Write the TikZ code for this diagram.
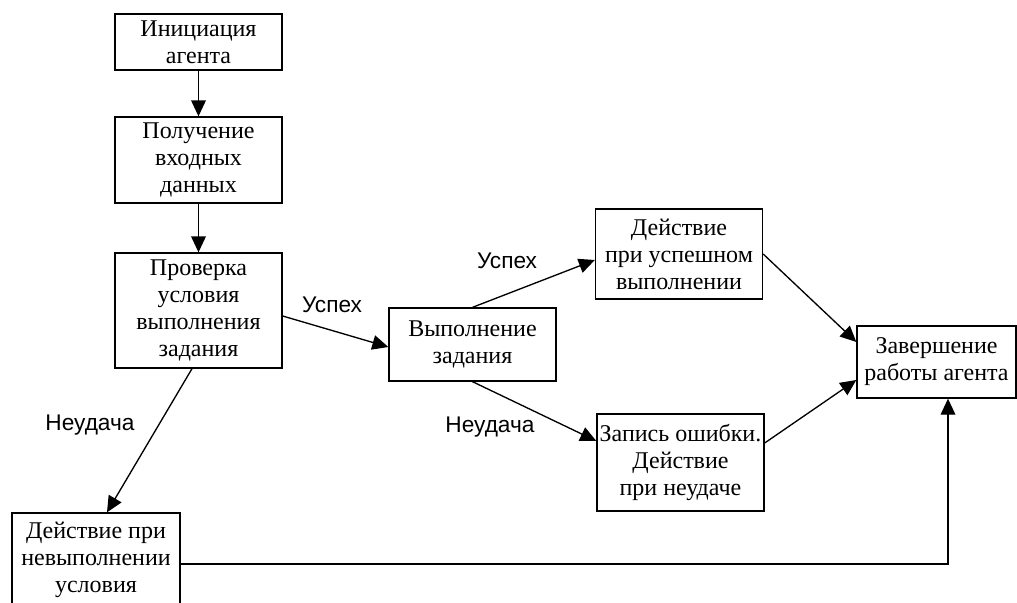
\documentclass[tikz,border=0pt]{standalone}
\usepackage{fontspec}
\setmainfont{Liberation Serif}
\newfontfamily\lblfont{Liberation Sans}
\usetikzlibrary{arrows.meta,calc}
\begin{document}
\begin{tikzpicture}[x=0.75pt,y=-0.75pt,
  box/.style={draw, line width=1pt, inner sep=0pt, align=center, font=\fontsize{18}{20.25}\selectfont},
  arr/.style={line width=1pt, -{Triangle[length=12pt,width=11pt]}},
  lbl/.style={font=\lblfont\fontsize{17}{18}\selectfont, inner sep=0pt}]
\useasboundingbox (0,0) rectangle (1017,603);
\clip (0,0) rectangle (1017,603);
\node[box, minimum width=125.25pt, minimum height=42pt] (b1) at (198.5,42) {Инициация\\агента};
\node[box, minimum width=125.25pt, minimum height=64.5pt] (b2) at (198.5,160) {Получение\\входных\\данных};
\node[box, minimum width=125.25pt, minimum height=86.25pt] (b3) at (198.5,310.5) {Проверка\\условия\\выполнения\\задания};
\node[box, minimum width=125.25pt, minimum height=54.75pt] (b4) at (472.5,344.5) {Выполнение\\задания};
\node[box, minimum width=125.25pt, minimum height=67.5pt] (b5) at (679,254) {Действие\\при успешном\\выполнении};
\node[box, minimum width=125.25pt, minimum height=72.75pt] (b6) at (680.5,462.5) {Запись ошибки.\\Действие\\при неудаче};
\node[box, minimum width=119.25pt, minimum height=54pt] (b7) at (936.5,362) {Завершение\\работы агента};
\node[box, minimum width=126pt, minimum height=70.5pt] (b8) at (96,560) {Действие при\\невыполнении\\условия};

\node[lbl] (l1) at (332,305) {Успех};
\node[lbl] (l2) at (90,425) {Неудача};
\node[lbl] (l3) at (507,261) {Успех};
\node[lbl] (l4) at (490,427) {Неудача};

\draw[arr] (b1) -- (b2);
\draw[arr] (b2) -- (b3);
\draw[arr] ($(b3.east)+(0,5.5)$) -- ($(b4.west)+(0,2.5)$);
\draw[arr] ($(b3.south)+(-6.5,0)$) -- ($(b8.north)+(11,0)$);
\draw[arr] (b4.north) -- ($(b5.west)+(0,6)$);
\draw[arr] (b4.south) -- ($(b6.west)+(0,-21.5)$);
\draw[arr] (b5.east) -- ($(b7.west)+(0,-20)$);
\draw[arr] ($(b6.east)+(0,-19.5)$) -- ($(b7.west)+(0,18)$);
\draw[arr] ($(b8.east)+(0,4)$) -| ($(b7.south)+(11.5,0)$);
\end{tikzpicture}
\end{document}
